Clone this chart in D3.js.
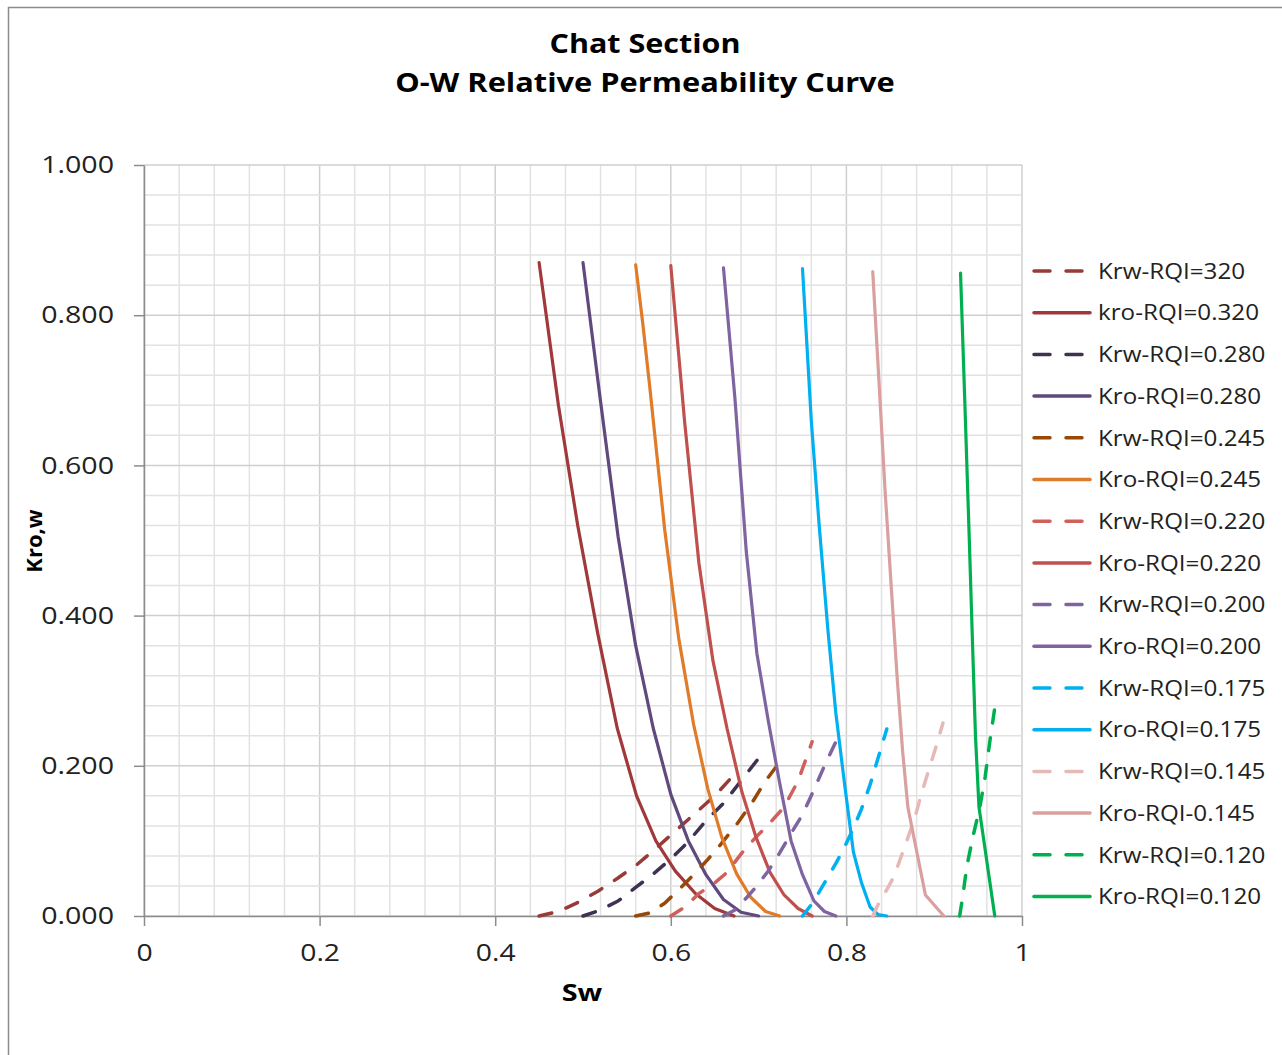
<!DOCTYPE html>
<html>
<head>
<meta charset="utf-8">
<style>
  body { margin: 0; background: #fff; }
  svg { display: block; font-family: 'Open Sans', sans-serif; }
</style>
</head>
<body>
<svg width="1282" height="1055"></svg>
<script src="https://d3js.org/d3.v7.min.js"></script>
<script>
// [Sw, K] pairs
const krw320 = [[0.450,0],[0.472,0.006],[0.494,0.018],[0.517,0.033],[0.539,0.050],[0.561,0.068],[0.583,0.090],[0.605,0.113],[0.628,0.137],[0.650,0.160],[0.672,0.188]];
const kro320 = [[0.450,0.870],[0.472,0.680],[0.494,0.520],[0.517,0.375],[0.539,0.250],[0.561,0.160],[0.583,0.100],[0.605,0.060],[0.628,0.030],[0.650,0.010],[0.672,0]];
const krw280 = [[0.500,0],[0.520,0.008],[0.540,0.020],[0.560,0.038],[0.580,0.056],[0.600,0.076],[0.620,0.099],[0.640,0.127],[0.660,0.150],[0.680,0.180],[0.700,0.210]];
const kro280 = [[0.500,0.870],[0.520,0.685],[0.540,0.505],[0.560,0.360],[0.580,0.250],[0.600,0.162],[0.620,0.100],[0.640,0.055],[0.660,0.022],[0.680,0.005],[0.700,0]];
const krw245 = [[0.560,0],[0.576,0.004],[0.593,0.017],[0.609,0.035],[0.626,0.055],[0.642,0.075],[0.658,0.097],[0.675,0.122],[0.691,0.148],[0.708,0.180],[0.724,0.205]];
const kro245 = [[0.560,0.867],[0.568,0.790],[0.576,0.705],[0.593,0.515],[0.609,0.370],[0.626,0.255],[0.642,0.170],[0.658,0.105],[0.675,0.056],[0.691,0.025],[0.708,0.006],[0.724,0]];
const krw220 = [[0.600,0],[0.616,0.012],[0.632,0.030],[0.648,0.042],[0.664,0.058],[0.681,0.084],[0.697,0.105],[0.713,0.124],[0.729,0.145],[0.745,0.180],[0.761,0.232]];
const kro220 = [[0.600,0.866],[0.616,0.655],[0.632,0.470],[0.648,0.340],[0.664,0.250],[0.681,0.165],[0.697,0.105],[0.713,0.058],[0.729,0.028],[0.745,0.010],[0.761,0]];
const krw200 = [[0.660,0],[0.673,0.008],[0.686,0.024],[0.698,0.040],[0.711,0.060],[0.724,0.084],[0.737,0.110],[0.750,0.135],[0.763,0.168],[0.775,0.200],[0.788,0.232]];
const kro200 = [[0.660,0.863],[0.673,0.690],[0.686,0.485],[0.698,0.350],[0.711,0.260],[0.724,0.177],[0.737,0.100],[0.750,0.055],[0.763,0.020],[0.775,0.006],[0.788,0]];
const krw175 = [[0.750,0],[0.760,0.015],[0.769,0.032],[0.779,0.052],[0.788,0.070],[0.798,0.092],[0.808,0.117],[0.817,0.142],[0.827,0.175],[0.836,0.210],[0.846,0.249]];
const kro175 = [[0.750,0.862],[0.760,0.660],[0.769,0.520],[0.779,0.380],[0.788,0.270],[0.798,0.175],[0.808,0.085],[0.817,0.045],[0.827,0.012],[0.836,0.002],[0.846,0]];
const krw145 = [[0.830,0],[0.838,0.020],[0.846,0.035],[0.854,0.052],[0.862,0.078],[0.870,0.104],[0.878,0.131],[0.886,0.165],[0.894,0.195],[0.902,0.225],[0.910,0.257]];
const kro145 = [[0.830,0.858],[0.837,0.714],[0.844,0.567],[0.851,0.440],[0.858,0.314],[0.864,0.220],[0.870,0.145],[0.890,0.028],[0.911,0]];
const krw120 = [[0.929,0],[0.933,0.030],[0.937,0.065],[0.944,0.105],[0.952,0.145],[0.958,0.185],[0.964,0.238],[0.970,0.285]];
const kro120 = [[0.930,0.856],[0.935,0.680],[0.940,0.500],[0.944,0.350],[0.947,0.240],[0.951,0.145],[0.969,0]];

const seriesData = [krw320, kro320, krw280, kro280, krw245, kro245, krw220, kro220,
                    krw200, kro200, krw175, kro175, krw145, kro145, krw120, kro120];
const seriesNames = ["Krw-RQI=320", "kro-RQI=0.320", "Krw-RQI=0.280", "Kro-RQI=0.280",
                     "Krw-RQI=0.245", "Kro-RQI=0.245", "Krw-RQI=0.220", "Kro-RQI=0.220",
                     "Krw-RQI=0.200", "Kro-RQI=0.200", "Krw-RQI=0.175", "Kro-RQI=0.175",
                     "Krw-RQI=0.145", "Kro-RQI-0.145", "Krw-RQI=0.120", "Kro-RQI=0.120"];
const seriesColors = ["#983a38", "#a0393b", "#3f3152", "#60497c", "#984807", "#e07b2a", "#d0605c", "#c0504d",
                      "#8064a2", "#8064a2", "#00b0f0", "#00b0f0", "#e6b9b8", "#d9a09f", "#00b050", "#00b050"];
const seriesDashed = [true, false, true, false, true, false, true, false,
                      true, false, true, false, true, false, true, false];

const xTicks = [0, 0.2, 0.4, 0.6, 0.8, 1];
const xTickLabels = ["0", "0.2", "0.4", "0.6", "0.8", "1"];
const yTicks = [0, 0.2, 0.4, 0.6, 0.8, 1];

let svg = d3.select("svg")

// the source picture is a bit wider than the font, stretch text to match
function stretch(sel, f) {
    sel.each(function () {
        let w = this.getComputedTextLength()
        d3.select(this)
            .attr("textLength", w * f)
            .attr("lengthAdjust", "spacingAndGlyphs")
    })
}

// outer chart border
svg.append("rect")
    .attr("x", 8.5).attr("y", 7.5)
    .attr("width", 1300).attr("height", 1100)
    .style("fill", "none")
    .style("stroke", "#8c8c8c")
    .style("stroke-width", 1.5)

let x = d3.scaleLinear().domain([0, 1]).range([144, 1022])
let y = d3.scaleLinear().domain([0, 1]).range([916, 165])

// grid
let minor = d3.range(0, 1.0001, 0.04)
let grid = svg.append("g")
grid.selectAll(".vg")
    .data(minor)
    .join("line")
    .attr("x1", d => x(d)).attr("x2", d => x(d))
    .attr("y1", y(0)).attr("y2", y(1))
    .style("stroke", (d, i) => i % 5 == 0 ? "#cfcfcf" : "#e2e2e2")
    .style("stroke-width", 1.5)
grid.selectAll(".hg")
    .data(minor)
    .join("line")
    .attr("x1", x(0)).attr("x2", x(1))
    .attr("y1", d => y(d)).attr("y2", d => y(d))
    .style("stroke", (d, i) => i % 5 == 0 ? "#cfcfcf" : "#e2e2e2")
    .style("stroke-width", 1.5)

// axes
let xAxis = svg.append("g")
    .attr("transform", "translate(0," + y(0) + ")")
    .call(d3.axisBottom(x).tickValues(xTicks).tickSize(10).tickSizeOuter(0)
        .tickFormat((d, i) => xTickLabels[i]))
let yAxis = svg.append("g")
    .attr("transform", "translate(" + x(0) + ",0)")
    .call(d3.axisLeft(y).tickValues(yTicks).tickSize(10).tickSizeOuter(0)
        .tickFormat(d3.format(".3f")))

svg.selectAll(".domain, .tick line")
    .style("stroke", "#8c8c8c")
    .style("stroke-width", 1.5)
xAxis.selectAll("text")
    .attr("y", 28)
    .style("font-size", "24px")
    .style("font-family", "'Open Sans', sans-serif")
    .style("fill", "#222")
    .call(stretch, 1.18)
yAxis.selectAll("text")
    .attr("x", -30)
    .style("font-size", "24px")
    .style("font-family", "'Open Sans', sans-serif")
    .style("fill", "#222")
    .call(stretch, 1.19)

// curves
let line = d3.line()
    .x(d => x(d[0]))
    .y(d => y(d[1]))

svg.append("g")
    .selectAll("path")
    .data(seriesData)
    .join("path")
    .attr("d", line)
    .style("fill", "none")
    .style("stroke", (d, i) => seriesColors[i])
    .style("stroke-width", (d, i) => seriesDashed[i] ? 3.5 : 3.2)
    .style("stroke-dasharray", (d, i) => seriesDashed[i] ? "13,15" : null)
    .style("stroke-linecap", "round")
    .style("stroke-linejoin", "round")

// legend
let legend = svg.append("g")
    .selectAll("g")
    .data(seriesNames)
    .join("g")
    .attr("transform", (d, i) => "translate(1032," + (271 + i * 41.7) + ")")

legend.append("line")
    .attr("x1", 2).attr("x2", 58)
    .style("stroke", (d, i) => seriesColors[i])
    .style("stroke-width", 3.5)
    .style("stroke-dasharray", (d, i) => seriesDashed[i] ? "16,16" : null)
    .style("stroke-linecap", "round")

legend.append("text")
    .attr("x", 66)
    .attr("dy", "0.35em")
    .style("font-size", "22px")
    .style("fill", "#222")
    .text(d => d)
    .call(stretch, 1.1)

// titles
svg.append("text")
    .attr("x", 645).attr("y", 53)
    .attr("text-anchor", "middle")
    .style("font-size", "27px")
    .style("font-weight", "bold")
    .text("Chat Section")
    .call(stretch, 1.13)
svg.append("text")
    .attr("x", 645).attr("y", 92)
    .attr("text-anchor", "middle")
    .style("font-size", "27px")
    .style("font-weight", "bold")
    .text("O-W Relative Permeability Curve")
    .call(stretch, 1.14)

svg.append("text")
    .attr("x", 582).attr("y", 1001)
    .attr("text-anchor", "middle")
    .style("font-size", "24px")
    .style("font-weight", "bold")
    .text("Sw")
    .call(stretch, 1.2)

svg.append("text")
    .attr("transform", "translate(42,541) rotate(-90)")
    .attr("text-anchor", "middle")
    .style("font-size", "22px")
    .style("font-weight", "bold")
    .text("Kro,w")
</script>
</body>
</html>
